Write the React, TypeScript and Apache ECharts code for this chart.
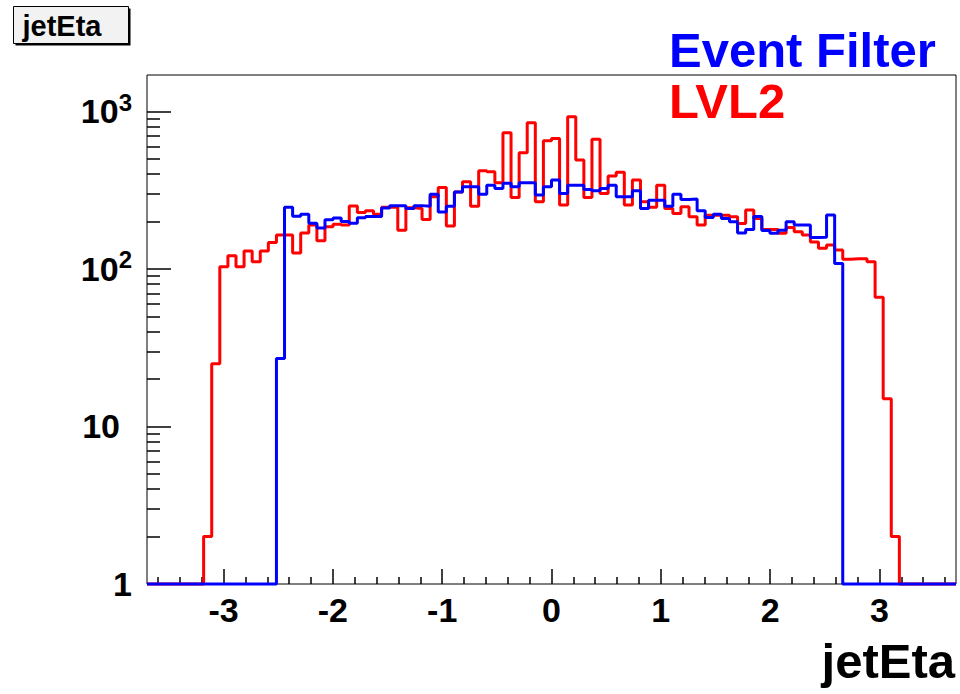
import React, { useEffect, useRef } from "react";
import * as echarts from "echarts";

// Histogram binning of jet pseudorapidity
const BIN_LOW = -3.7;
const BIN_HIGH = 3.7;

// Entries per bin (100 bins), LVL2 trigger
const lvl2Counts = [
  0, 0, 0, 0, 0, 0, 0, 2, 25, 103,
  121, 103, 130, 111, 130, 147, 164, 164, 126, 169,
  190, 151, 185, 192, 190, 251, 228, 234, 222, 246,
  246, 176, 244, 242, 206, 287, 329, 187, 308, 357,
  250, 419, 413, 352, 731, 284, 545, 847, 267, 650,
  673, 254, 924, 491, 284, 664, 301, 388, 410, 254,
  366, 267, 246, 340, 242, 225, 248, 214, 190, 219,
  219, 219, 214, 194, 236, 209, 178, 178, 168, 183,
  172, 164, 148, 135, 142, 132, 115, 116, 116, 111,
  66, 15, 2, 0, 0, 0, 0, 0, 0, 0,
];

// Entries per bin (100 bins), Event Filter
const eventFilterCounts = [
  0, 0, 0, 0, 0, 0, 0, 0, 0, 0,
  0, 0, 0, 0, 0, 0, 27, 246, 216, 222,
  195, 182, 205, 210, 200, 195, 211, 215, 215, 243,
  252, 252, 242, 252, 250, 298, 230, 250, 308, 332,
  332, 298, 340, 324, 349, 332, 352, 352, 294, 332,
  366, 301, 340, 340, 319, 313, 324, 340, 287, 287,
  313, 242, 273, 273, 250, 298, 276, 278, 234, 212,
  222, 209, 199, 169, 178, 215, 175, 168, 176, 199,
  190, 190, 158, 159, 220, 108, 0, 0, 0, 0,
  0, 0, 0, 0, 0, 0, 0, 0, 0, 0,
];

const xTickValues = [-3, -2, -1, 0, 1, 2, 3];
const xMinorTickValues = [
  -3.6, -3.4, -3.2, -2.8, -2.6, -2.4, -2.2, -1.8, -1.6, -1.4, -1.2,
  -0.8, -0.6, -0.4, -0.2, 0.2, 0.4, 0.6, 0.8, 1.2, 1.4, 1.6, 1.8,
  2.2, 2.4, 2.6, 2.8, 3.2, 3.4, 3.6,
];
const yTickValues = [1, 10, 100, 1000];
const yMinorTickValues = [
  2, 3, 4, 5, 6, 7, 8, 9, 20, 30, 40, 50, 60, 70, 80, 90,
  200, 300, 400, 500, 600, 700, 800, 900,
];

const Y_MIN = 1;
const Y_MAX = 1700;

const FONT = "'Liberation Sans', Arial, Helvetica, sans-serif";

// Turn bin contents into the outline of a step histogram.
// Empty bins sit on the bottom of the frame, as on a log scale.
function histOutline(counts: number[]): [number, number][] {
  const w = (BIN_HIGH - BIN_LOW) / counts.length;
  const pts: [number, number][] = [];
  counts.forEach((c, i) => {
    const lo = BIN_LOW + i * w;
    const hi = lo + w;
    const v = Math.max(c, Y_MIN);
    pts.push([lo, v], [hi, v]);
  });
  return pts;
}

export default function App() {
  const ref = useRef<HTMLDivElement>(null);

  useEffect(() => {
    if (!ref.current) return;
    const chart = echarts.init(ref.current, undefined, { renderer: "svg" });

    const tickStyle = { color: "#000", width: 1.5 };
    const noLine = { show: false, onZero: false };

    chart.setOption({
      animation: false,
      backgroundColor: "#fff",
      grid: {
        left: 147,
        right: 4,
        top: 75,
        bottom: 110,
        show: true,
        borderColor: "#000",
        borderWidth: 1,
        backgroundColor: "transparent",
      },
      legend: {
        orient: "vertical",
        left: 659,
        top: 20,
        itemGap: 2,
        itemWidth: 0,
        itemHeight: 0,
        icon: "none",
        selectedMode: false,
        textStyle: { fontSize: 49, fontWeight: "bold", fontFamily: FONT },
        data: [
          { name: "Event Filter", textStyle: { color: "#0000ff" } },
          { name: "LVL2", textStyle: { color: "#ff0000" } },
        ],
      },
      xAxis: [
        {
          type: "value",
          min: BIN_LOW,
          max: BIN_HIGH,
          axisLine: noLine,
          splitLine: { show: false },
          axisTick: {
            show: true,
            inside: true,
            length: 15,
            customValues: xTickValues,
            lineStyle: tickStyle,
          },
          axisLabel: {
            customValues: xTickValues,
            margin: 9,
            color: "#000",
            fontSize: 34,
            fontWeight: "bold",
            fontFamily: FONT,
          },
        },
        {
          type: "value",
          min: BIN_LOW,
          max: BIN_HIGH,
          position: "bottom",
          axisLine: noLine,
          splitLine: { show: false },
          axisLabel: { show: false },
          axisTick: {
            show: true,
            inside: true,
            length: 7,
            customValues: xMinorTickValues,
            lineStyle: tickStyle,
          },
        },
      ],
      yAxis: [
        {
          type: "log",
          logBase: 10,
          min: Y_MIN,
          max: Y_MAX,
          position: "left",
          axisLine: noLine,
          splitLine: { show: false },
          axisTick: {
            show: true,
            inside: true,
            length: 24,
            customValues: yTickValues,
            lineStyle: tickStyle,
          },
          axisLabel: {
            customValues: yTickValues,
            margin: 15,
            formatter: (v: number) => {
              const e = Math.round(Math.log10(v));
              if (e === 0) return "{b|1}";
              if (e === 1) return "{b|10}{g|}";
              return "{b|10}{s|" + e + "}";
            },
            rich: {
              b: {
                fontSize: 34,
                lineHeight: 42,
                fontWeight: "bold",
                fontFamily: FONT,
                color: "#000",
              },
              s: {
                fontSize: 24,
                lineHeight: 24,
                fontWeight: "bold",
                fontFamily: FONT,
                color: "#000",
                verticalAlign: "top",
              },
              g: { width: 12 },
            },
          },
        },
        {
          type: "log",
          logBase: 10,
          min: Y_MIN,
          max: Y_MAX,
          position: "left",
          axisLine: noLine,
          splitLine: { show: false },
          axisLabel: { show: false },
          axisTick: {
            show: true,
            inside: true,
            length: 13,
            customValues: yMinorTickValues,
            lineStyle: tickStyle,
          },
        },
      ],
      series: [
        {
          name: "LVL2",
          type: "line",
          xAxisIndex: 0,
          yAxisIndex: 0,
          data: histOutline(lvl2Counts),
          showSymbol: false,
          symbol: "none",
          clip: false,
          lineStyle: { color: "#ff0000", width: 3 },
          itemStyle: { color: "#ff0000" },
          z: 3,
        },
        {
          name: "Event Filter",
          type: "line",
          xAxisIndex: 0,
          yAxisIndex: 0,
          data: histOutline(eventFilterCounts),
          showSymbol: false,
          symbol: "none",
          clip: false,
          lineStyle: { color: "#0000ff", width: 3 },
          itemStyle: { color: "#0000ff" },
          z: 4,
        },
      ],
      graphic: [
        {
          type: "group",
          left: 13,
          top: 6,
          children: [
            {
              type: "rect",
              shape: { x: 2, y: 2, width: 115, height: 37 },
              style: { fill: "#000" },
            },
            {
              type: "rect",
              shape: { x: 0, y: 0, width: 115, height: 37 },
              style: { fill: "#f2f2f2", stroke: "#000", lineWidth: 1 },
            },
            {
              type: "text",
              x: 9,
              y: 19,
              style: {
                text: "jetEta",
                fill: "#000",
                font: "bold 29px " + FONT,
                verticalAlign: "middle",
                align: "left",
              },
            },
          ],
        },
        {
          type: "text",
          right: 5,
          top: 636,
          style: {
            text: "jetEta",
            fill: "#000",
            font: "bold 49px " + FONT,
          },
        },
      ],
    });

    return () => chart.dispose();
  }, []);

  return (
    <div
      ref={ref}
      style={{ position: "absolute", left: 0, top: 0, width: 960, height: 694 }}
    />
  );
}
